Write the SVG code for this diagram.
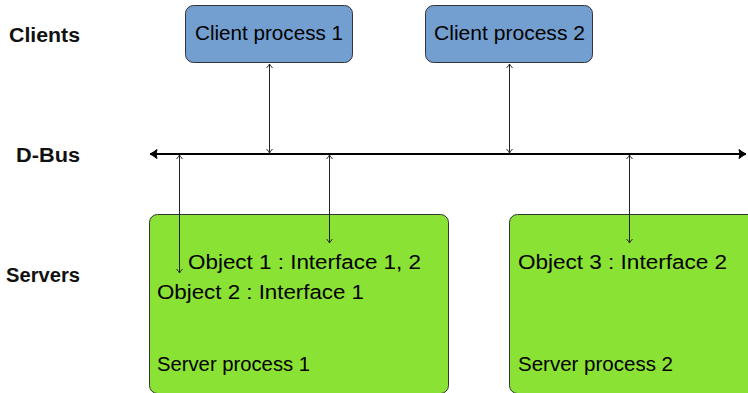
<svg xmlns="http://www.w3.org/2000/svg" width="748" height="393" viewBox="0 0 748 393">
  <style>
    .lbl { font-family: "Liberation Sans", "DejaVu Sans", sans-serif; font-size: 20px; fill: #000; }
    .side { font-family: "Liberation Sans", "DejaVu Sans", sans-serif; font-size: 20px; font-weight: bold; fill: #111; text-anchor: end; }
    .client { fill: #729fcf; stroke: #333; stroke-width: 1; }
    .server { fill: #8ae234; stroke: #333; stroke-width: 1; }
    .link { stroke: #222; stroke-width: 1; fill: none; marker-start: url(#tip); marker-end: url(#tip); }
    .bus { stroke: #000; stroke-width: 2; fill: none; marker-start: url(#bigtip); marker-end: url(#bigtip); }
  </style>
  <defs>
    <marker id="tip" viewBox="-5 -4 6 8" markerWidth="6" markerHeight="8" refX="0" refY="0" orient="auto-start-reverse" markerUnits="userSpaceOnUse">
      <path d="M-4,-3 Q-1.5,-0.6 0,0 Q-1.5,0.6 -4,3" fill="none" stroke="#222" stroke-width="1"/>
    </marker>
    <marker id="bigtip" viewBox="-9 -6 10 12" markerWidth="10" markerHeight="12" refX="0" refY="0" orient="auto-start-reverse" markerUnits="userSpaceOnUse">
      <path d="M-7,-4.5 Q-2.5,-1 0,0 Q-2.5,1 -7,4.5 Q-5,0 -7,-4.5 Z" fill="#000" stroke="#000" stroke-width="1" stroke-linejoin="round"/>
    </marker>
  </defs>

  <!-- row labels -->
  <text class="side" x="80" y="42" textLength="71" lengthAdjust="spacingAndGlyphs">Clients</text>
  <text class="side" x="80" y="162" textLength="64" lengthAdjust="spacingAndGlyphs">D-Bus</text>
  <text class="side" x="80" y="282" textLength="74" lengthAdjust="spacingAndGlyphs">Servers</text>

  <!-- client processes -->
  <g id="client1">
    <rect class="client" x="185.5" y="5.5" width="167" height="57" rx="8"/>
    <text class="lbl" x="195" y="40" textLength="148" lengthAdjust="spacingAndGlyphs">Client process 1</text>
  </g>
  <g id="client2">
    <rect class="client" x="425.5" y="5.5" width="167" height="57" rx="8"/>
    <text class="lbl" x="434" y="40" textLength="151" lengthAdjust="spacingAndGlyphs">Client process 2</text>
  </g>

  <!-- server processes -->
  <g id="server1">
    <rect class="server" x="149.5" y="214.5" width="299" height="179" rx="8"/>
    <text class="lbl" x="188" y="269" textLength="233" lengthAdjust="spacingAndGlyphs">Object 1 : Interface 1, 2</text>
    <text class="lbl" x="157" y="299" textLength="207" lengthAdjust="spacingAndGlyphs">Object 2 : Interface 1</text>
    <text class="lbl" x="157" y="371" textLength="153" lengthAdjust="spacingAndGlyphs">Server process 1</text>
  </g>
  <g id="server2">
    <rect class="server" x="509.5" y="214.5" width="299" height="179" rx="8"/>
    <text class="lbl" x="518" y="269" textLength="209" lengthAdjust="spacingAndGlyphs">Object 3 : Interface 2</text>
    <text class="lbl" x="518" y="371" textLength="155" lengthAdjust="spacingAndGlyphs">Server process 2</text>
  </g>

  <!-- bus and connectors -->
  <g id="connectors">
    <line id="dbus" class="bus" x1="150" y1="154" x2="746" y2="154"/>
    <line class="link" x1="269.5" y1="64" x2="269.5" y2="153"/>
    <line class="link" x1="509.5" y1="64" x2="509.5" y2="153"/>
    <line class="link" x1="179.5" y1="155" x2="179.5" y2="273"/>
    <line class="link" x1="329.5" y1="155" x2="329.5" y2="243"/>
    <line class="link" x1="629.5" y1="155" x2="629.5" y2="243"/>
  </g>
</svg>
